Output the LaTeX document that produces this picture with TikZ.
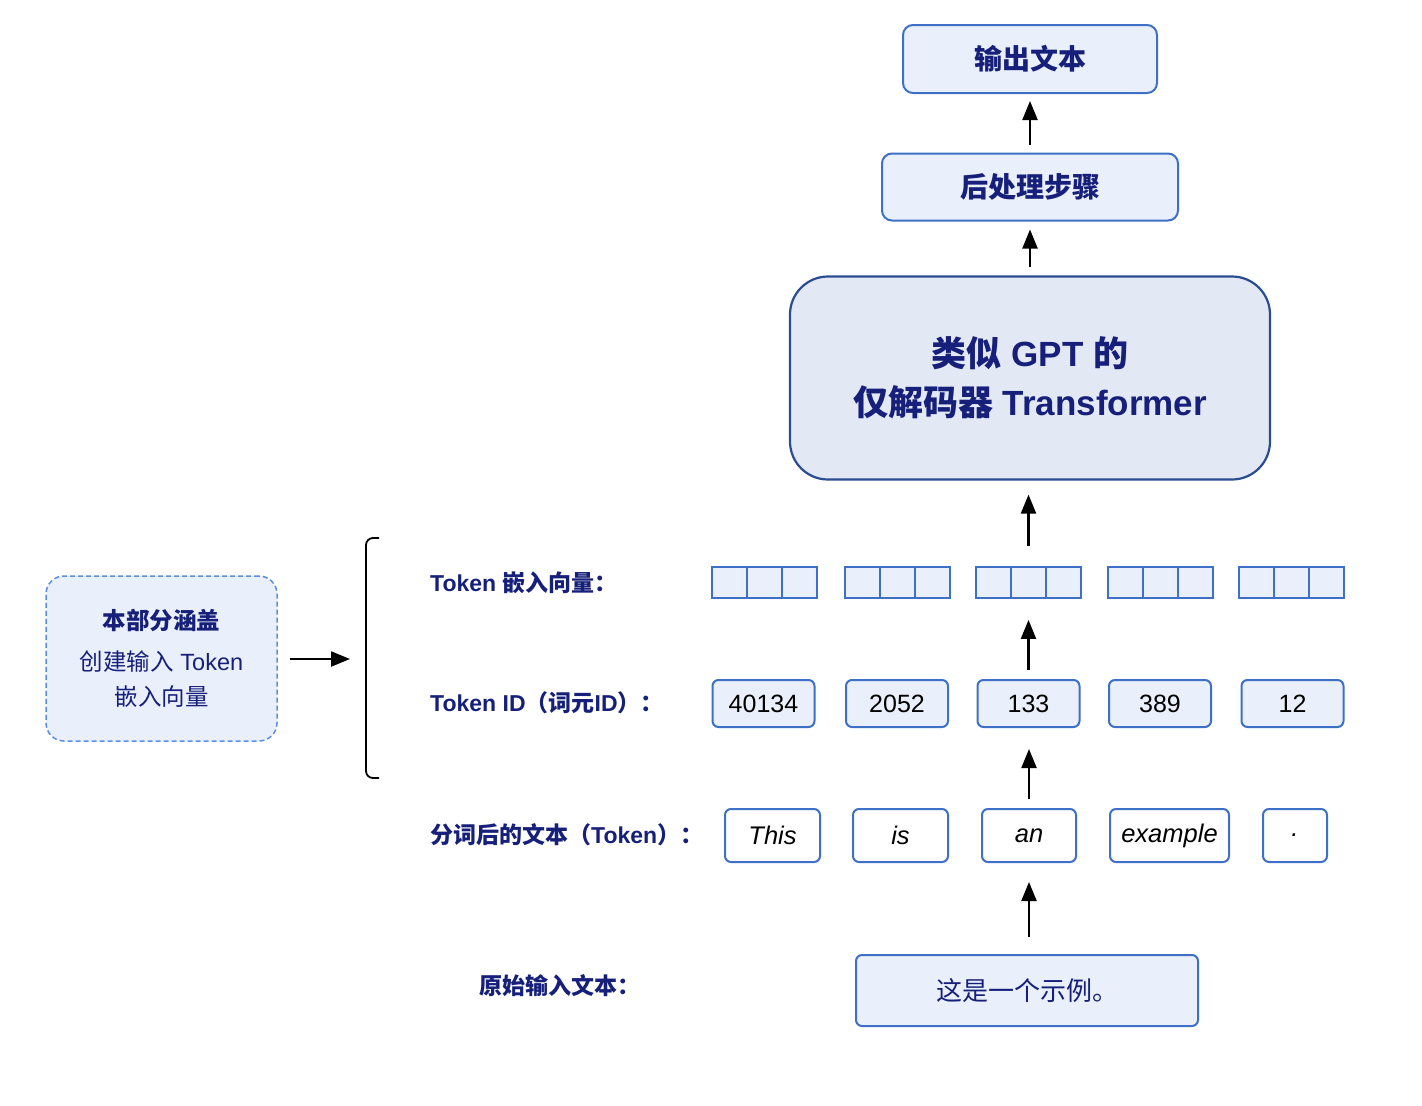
\documentclass[tikz,border=0pt]{standalone}
\usepackage{fontspec}
\setmainfont{Liberation Sans}
\newfontfamily\cjk{Noto Sans CJK SC}
\usetikzlibrary{arrows.meta}
\newcommand\zh[1]{{\cjk #1}}
\definecolor{navy}{HTML}{16207A}
\definecolor{bblue}{HTML}{3E70C8}
\definecolor{bfill}{HTML}{EAF0FB}
\definecolor{tblue}{HTML}{2C4C92}
\definecolor{tfill}{HTML}{E3E9F4}
\definecolor{dblue}{HTML}{5B8EE0}
\begin{document}
\begin{tikzpicture}[x=1pt,y=-1pt,
  box/.style={draw=bblue, fill=bfill, line width=2pt, rounded corners=10pt, inner sep=0pt},
  tbox/.style={draw=tblue, fill=tfill, line width=2.2pt, rounded corners=38pt, inner sep=0pt},
  cell/.style={draw=bblue, fill=bfill, line width=1.8pt, minimum width=35pt, minimum height=31pt, inner sep=0pt},
  idbox/.style={box, rounded corners=6pt, minimum width=102pt, minimum height=47pt, font=\fontsize{25}{30}\selectfont},
  tokbox/.style={box, fill=white, rounded corners=6pt, minimum height=53pt, font=\fontsize{25.5}{30}\selectfont\itshape},
  lbl/.style={anchor=west, text=navy, inner sep=0pt, font=\fontsize{23}{27}\selectfont\bfseries},
  arr/.style={-{Triangle[length=19pt,width=15pt]}, line width=2.2pt, black}]
\useasboundingbox (0,0) rectangle (1422,1106);
\fill[white] (0,0) rectangle (1422,1106);

% top stack
\node[box, minimum width=254pt, minimum height=68pt, text=navy, font=\fontsize{28}{32}\selectfont\bfseries] (out) at (1030,59) {\zh{输出文本}};
\node[box, minimum width=296pt, minimum height=67pt, text=navy, font=\fontsize{28}{32}\selectfont\bfseries] (post) at (1030,187) {\zh{后处理步骤}};
\node[tbox, minimum width=480pt, minimum height=203pt, text=navy, align=center, font=\fontsize{35}{49}\selectfont\bfseries] (tf) at (1030,378) {\zh{类似} GPT \zh{的}\\\zh{仅解码器} Transformer};

% embeddings
\foreach \i/\cx in {1/764.5,2/897.5,3/1028.5,4/1160.5,5/1291.5}{
  \foreach \j/\dx in {a/-35,b/0,c/35}{
    \node[cell] (e\i\j) at ({\cx+\dx},582.5) {};
  }
}

% ids
\foreach \i/\cx/\t in {1/763.5/40134,2/897/2052,3/1028.5/133,4/1160/389,5/1292.5/12}{
  \node[idbox] (id\i) at (\cx,703.5) {\t};
}

% tokens
\node[tokbox, minimum width=95pt] (t1) at (772.5,835.5) {This};
\node[tokbox, minimum width=95pt] (t2) at (900.5,835.5) {is};
\node[tokbox, minimum width=94pt] (t3) at (1029,835.5) {an};
\node[tokbox, minimum width=119pt] (t4) at (1169.5,835.5) {example};
\node[tokbox, minimum width=64pt] (t5) at (1295,835.5) {.};

% input
\node[box, rounded corners=6pt, minimum width=342pt, minimum height=71pt, text=navy, font=\fontsize{26}{30}\selectfont] (src) at (1027,990.5) {\zh{这是一个示例。}};

% labels
\node[lbl] (l1) at (430,583) {Token \zh{嵌入向量：}};
\node[lbl] (l2) at (430,703) {Token ID\zh{（词元}ID\zh{）：}};
\node[lbl] (l3) at (430,835) {\zh{分词后的文本（}Token\zh{）：}};
\node[lbl] (l4) at (479,986) {\zh{原始输入文本：}};

% arrows
\draw[arr, shorten <=8pt, shorten >=7pt] (post.north) -- (out.south);
\draw[arr, shorten <=8pt, shorten >=8pt] (tf.north) -- (post.south);
\draw[arr, shorten <=20pt, shorten >=14pt] (e3b.north) -- (e3b.north |- tf.south);
\draw[arr, shorten <=9pt, shorten >=21pt] (id3.north) -- (id3.north |- e3b.south);
\draw[arr, shorten <=9pt, shorten >=21pt] (t3.north) -- (t3.north |- id3.south);
\draw[arr, shorten <=17pt, shorten >=19pt] (src.north -| t3.south) -- (t3.south);

% dashed cover box
\node[draw=dblue, dashed, dash pattern=on 5pt off 3pt, fill=bfill, line width=1.5pt, rounded corners=18pt, minimum width=231pt, minimum height=165pt, align=center, text=navy, font=\fontsize{23.5}{35}\selectfont] (cover) at (161.5,658.5) {{\bfseries\zh{本部分涵盖}}\\[6pt]\zh{创建输入} Token\\\zh{嵌入向量}};

% bracket
\draw[line width=1.8pt, rounded corners=7pt] (379,538) -- (366,538) -- (366,778) -- (379,778);
\coordinate (brk) at (350,659);
\draw[arr, shorten <=12pt] (cover.east |- brk) -- (brk);
\end{tikzpicture}
\end{document}
